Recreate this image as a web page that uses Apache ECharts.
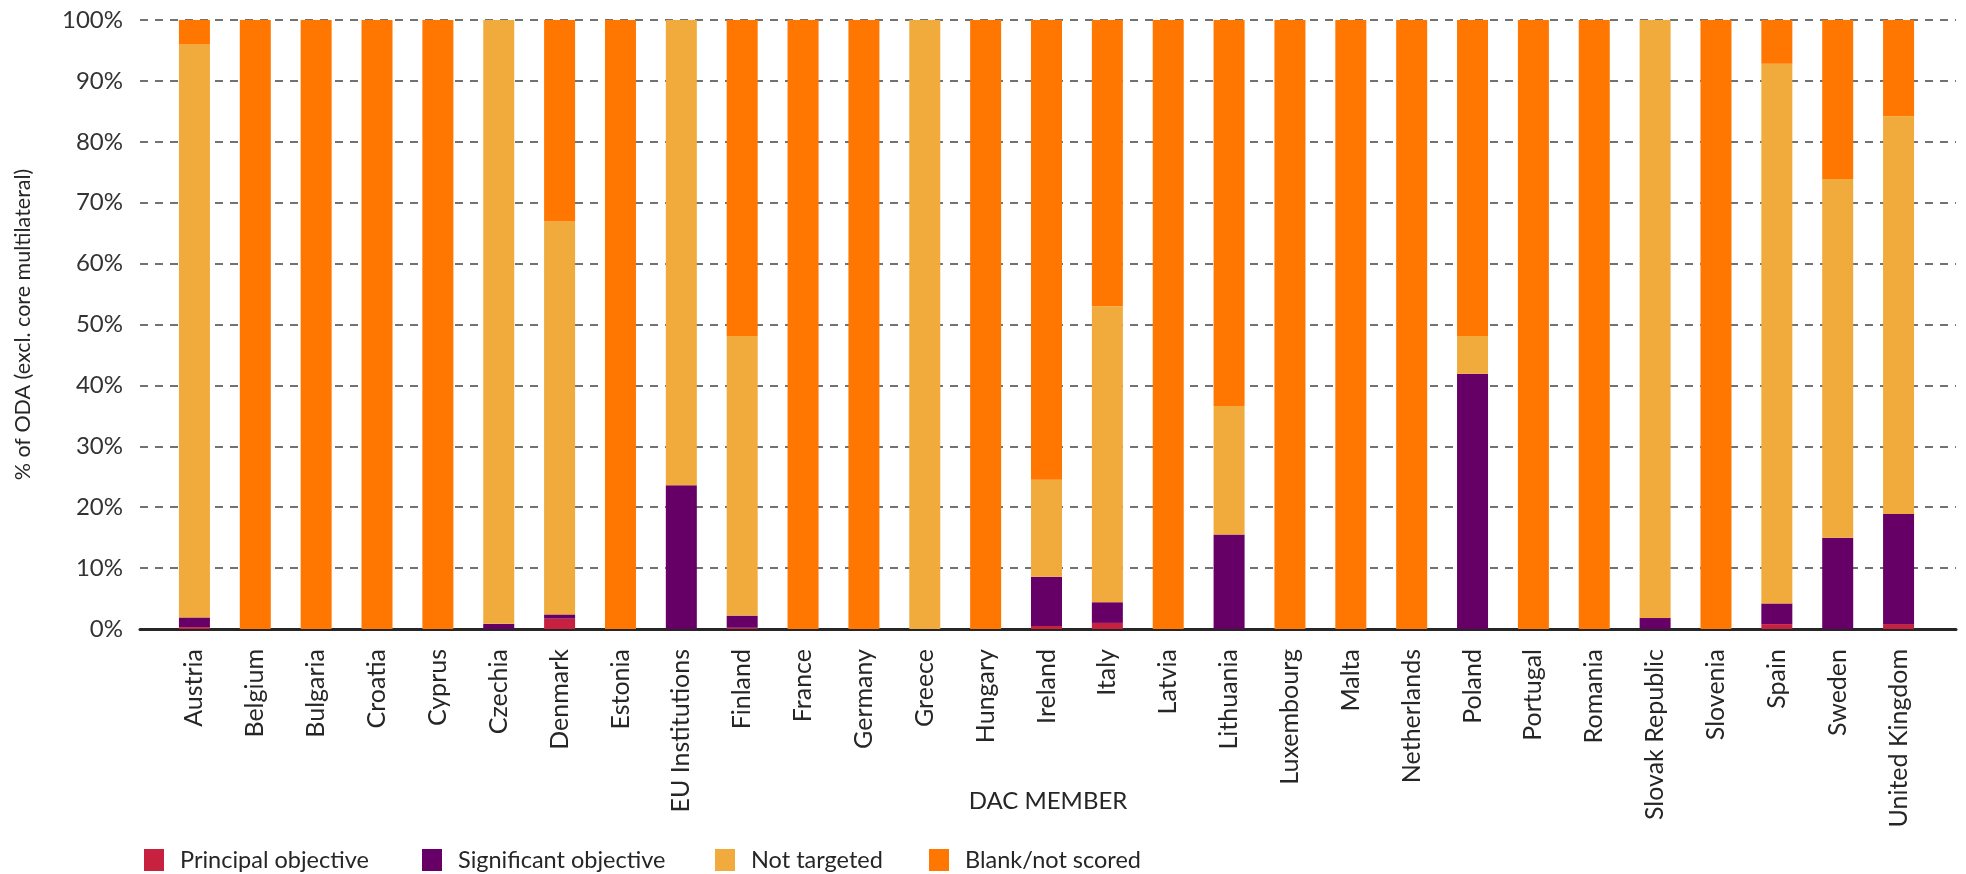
<!DOCTYPE html>
<html>
<head>
<meta charset="utf-8">
<script src="https://cdn.jsdelivr.net/npm/echarts@6/dist/echarts.min.js"></script>
<style>
  html, body { margin: 0; padding: 0; background: #ffffff; }
  #chart { width: 1966px; height: 874px; }
</style>
</head>
<body>
<div id="chart"></div>
<script>
// DAC members and the share of their ODA (excl. core multilateral) by marker score, in %
const categories = [
  'Austria', 'Belgium', 'Bulgaria', 'Croatia', 'Cyprus', 'Czechia', 'Denmark', 'Estonia',
  'EU Institutions', 'Finland', 'France', 'Germany', 'Greece', 'Hungary', 'Ireland', 'Italy',
  'Latvia', 'Lithuania', 'Luxembourg', 'Malta', 'Netherlands', 'Poland', 'Portugal', 'Romania',
  'Slovak Republic', 'Slovenia', 'Spain', 'Sweden', 'United Kingdom'
];
const principalObjective = [0.3, 0, 0, 0, 0, 0, 1.7, 0, 0, 0.2, 0, 0, 0, 0, 0.5, 1.0, 0, 0, 0, 0, 0, 0, 0, 0, 0, 0, 0.8, 0, 0.8];
const significantObjective = [1.6, 0, 0, 0, 0, 0.85, 0.7, 0, 23.6, 2.0, 0, 0, 0, 0, 8.1, 3.4, 0, 15.5, 0, 0, 0, 41.9, 0, 0, 1.8, 0, 3.4, 15.0, 18.1];
const notTargeted = [94.1, 0, 0, 0, 0, 99.15, 64.5, 0, 76.4, 45.9, 0, 0, 100, 0, 15.9, 48.6, 0, 21.1, 0, 0, 0, 6.2, 0, 0, 98.2, 0, 88.6, 58.9, 65.3];
const blankNotScored = [4.0, 100, 100, 100, 100, 0, 33.1, 100, 0, 51.9, 100, 100, 0, 100, 75.5, 47.0, 100, 63.4, 100, 100, 100, 51.9, 100, 100, 0, 100, 7.2, 26.1, 15.8];

const seriesNames = ['Principal objective', 'Significant objective', 'Not targeted', 'Blank/not scored'];
const seriesData = [principalObjective, significantObjective, notTargeted, blankNotScored];
const seriesColors = ['#C8203F', '#660066', '#F0AB3C', '#FF7700'];

const FONT = 'Lato, "Open Sans", sans-serif';
const TEXT = '#262626';

const chart = echarts.init(document.getElementById('chart'), null, { renderer: 'canvas' });

const legendLefts = [144, 422, 715, 929];

chart.setOption({
  animation: false,
  backgroundColor: '#ffffff',
  textStyle: { fontFamily: FONT, color: TEXT },
  grid: [
    // frame: axis line, dashed gridlines and y labels
    { left: 140, right: 10, top: 20, bottom: 245 },
    // bars
    { left: 164, width: 1765, top: 20, bottom: 245 }
  ],
  legend: seriesNames.map((name, i) => ({
    data: [name],
    left: legendLefts[i],
    top: 848,
    padding: 0,
    itemWidth: 20,
    itemHeight: 22,
    icon: 'rect',
    selectedMode: false,
    textStyle: { fontFamily: FONT, fontSize: 23.5, color: TEXT, padding: [0, 0, 0, 11] }
  })),
  xAxis: [
    {
      gridIndex: 0,
      type: 'category',
      data: [],
      offset: 2,
      axisLine: { show: true, lineStyle: { color: '#262626', width: 3 } },
      axisTick: { show: false },
      axisLabel: { show: false },
      name: 'DAC MEMBER',
      nameLocation: 'middle',
      nameGap: 158,
      nameTextStyle: { fontFamily: FONT, fontSize: 24, color: TEXT }
    },
    {
      gridIndex: 1,
      type: 'category',
      data: categories,
      axisLine: { show: false },
      axisTick: { show: false },
      axisLabel: {
        rotate: 90,
        margin: 20,
        interval: 0,
        fontFamily: FONT,
        fontSize: 25,
        color: TEXT
      }
    }
  ],
  yAxis: [
    {
      gridIndex: 0,
      type: 'value',
      min: 0,
      max: 100,
      interval: 10,
      axisLine: { show: false },
      axisTick: { show: false },
      axisLabel: {
        formatter: '{value}%',
        margin: 17,
        fontFamily: FONT,
        fontSize: 24,
        color: '#333333'
      },
      splitLine: { show: true, lineStyle: { color: '#444444', width: 1.5, type: [8, 7] } },
      name: '% of ODA (excl. core multilateral)',
      nameLocation: 'middle',
      nameGap: 106,
      nameTextStyle: { fontFamily: FONT, fontSize: 21.5, color: TEXT }
    },
    {
      gridIndex: 1,
      type: 'value',
      min: 0,
      max: 100,
      interval: 10,
      show: false
    }
  ],
  series: seriesNames.map((name, i) => ({
    name: name,
    type: 'bar',
    stack: 'share',
    xAxisIndex: 1,
    yAxisIndex: 1,
    barWidth: 31,
    itemStyle: { color: seriesColors[i] },
    emphasis: { disabled: true },
    data: seriesData[i]
  }))
});
</script>
</body>
</html>
